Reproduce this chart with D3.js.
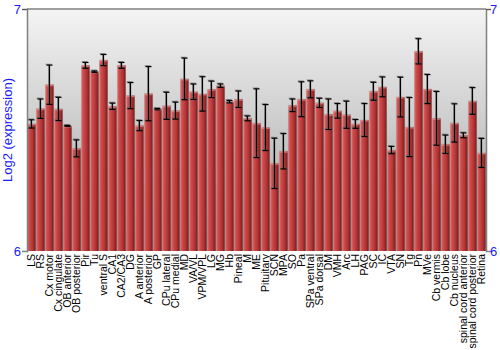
<!DOCTYPE html>
<html><head><meta charset="utf-8">
<script src="https://cdn.jsdelivr.net/npm/d3@7"></script>
<style>body{margin:0;background:#fff}svg{display:block}</style>
</head><body>
<script>
const categories = ["LS","RS","Cx motor","Cx cingulate","OB anterior","OB posterior","Pir","Tu","ventral S","CA1","CA2/CA3","DG","A anterior","A posterior","GP","CPu lateral","CPu medial","MD","VA/VL","VPM/VPL","LG","MG","Hb","Pineal","M","ME","Pituitary","SCN","MPA","SO","Pa","SPa ventral","SPa dorsal","DM","VMH","Arc","LH","PAG","SC","IC","VTA","SN","Tg","Pn","MVe","Cb vermis","Cb lobe","Cb nucleus","spinal cord anterior","spinal cord posterior","Retina"];
const values = [6.525,6.588,6.687,6.587,6.517,6.424,6.767,6.741,6.789,6.598,6.767,6.642,6.518,6.650,6.586,6.600,6.580,6.711,6.658,6.649,6.668,6.683,6.617,6.627,6.548,6.528,6.510,6.362,6.412,6.602,6.627,6.668,6.612,6.565,6.579,6.563,6.525,6.541,6.660,6.678,6.417,6.636,6.512,6.825,6.669,6.548,6.441,6.529,6.478,6.620,6.405];
const errors = [0.017,0.040,0.081,0.048,0.002,0.035,0.012,0.003,0.023,0.013,0.012,0.054,0.021,0.112,0.003,0.056,0.035,0.086,0.032,0.071,0.034,0.007,0.005,0.034,0.010,0.142,0.095,0.104,0.073,0.026,0.072,0.035,0.019,0.063,0.030,0.056,0.018,0.068,0.037,0.041,0.015,0.082,0.122,0.052,0.060,0.111,0.038,0.079,0.010,0.055,0.060];
const yTicks = [6, 7];
const yLabel = "Log2 (expression)";

const W = 500, H = 350;
const m = {l: 27, r: 14, t: 9, b: 99};
const svg = d3.select("body").append("svg").attr("width", W).attr("height", H);
const defs = svg.append("defs");
const bg = defs.append("linearGradient").attr("id","bg").attr("x1",0).attr("y1",0).attr("x2",0).attr("y2",1);
bg.append("stop").attr("offset","0%").attr("stop-color","#f4f4f4");
bg.append("stop").attr("offset","100%").attr("stop-color","#a0a0a0");
const bar = defs.append("linearGradient").attr("id","bar").attr("x1",0).attr("y1",0).attr("x2",1).attr("y2",0);
[["0%","#e06868"],["25%","#cc4a4a"],["60%","#b63636"],["85%","#962626"],["100%","#6e1414"]].forEach(s=>bar.append("stop").attr("offset",s[0]).attr("stop-color",s[1]));

const x = d3.scaleBand().domain(categories).range([m.l, W - m.r]).paddingInner(0.1).paddingOuter(0.05);
const y = d3.scaleLinear().domain([6, 7]).range([H - m.b, m.t]);

svg.append("rect").attr("x", m.l).attr("y", m.t).attr("width", W - m.r - m.l).attr("height", H - m.b - m.t).attr("fill", "url(#bg)");

const g = svg.append("g");
g.selectAll("rect.shadow").data(categories).join("rect")
  .attr("x", d => x(d) - 0.5).attr("width", x.bandwidth() + 1)
  .attr("y", (d,i) => y(values[i]) - 0.5).attr("height", (d,i) => y(6) - y(values[i]) + 0.5)
  .attr("fill", "#888").attr("opacity", 0.35);
g.selectAll("rect.bar").data(categories).join("rect")
  .attr("x", d => x(d)).attr("width", x.bandwidth())
  .attr("y", (d,i) => y(values[i])).attr("height", (d,i) => y(6) - y(values[i]))
  .attr("fill", "url(#bar)");
g.selectAll("rect.cap").data(categories).join("rect")
  .attr("x", d => x(d)).attr("width", x.bandwidth())
  .attr("y", (d,i) => y(values[i])).attr("height", 1.5)
  .attr("fill", "#f0a0a0").attr("opacity", 0.6);

function errBars(sel, dx, dy, color, op){
  const cx = d => x(d) + x.bandwidth()/2 + dx;
  sel.selectAll(null).data(categories).join("line")
    .attr("x1", cx).attr("x2", cx)
    .attr("y1", (d,i) => y(values[i] + errors[i]) + dy).attr("y2", (d,i) => y(values[i] - errors[i]) + dy)
    .attr("stroke", color).attr("stroke-width", 1.2).attr("opacity", op);
  [1, -1].forEach(sg => {
    sel.selectAll(null).data(categories).join("line")
      .attr("x1", d => cx(d) - 3).attr("x2", d => cx(d) + 3)
      .attr("y1", (d,i) => y(values[i] + sg*errors[i]) + dy).attr("y2", (d,i) => y(values[i] + sg*errors[i]) + dy)
      .attr("stroke", color).attr("stroke-width", 1.2).attr("opacity", op);
  });
}
errBars(svg.append("g"), -0.8, -0.8, "#666", 0.7);
errBars(svg.append("g"), 0, 0, "#000", 1);

// frame
svg.append("line").attr("x1", m.l).attr("x2", W - m.r).attr("y1", m.t).attr("y2", m.t).attr("stroke", "#808080").attr("stroke-width", 1.5);

const yl = svg.append("g").attr("transform", `translate(${m.l},0)`)
  .call(d3.axisLeft(y).tickValues(yTicks).tickSize(5).tickFormat(d3.format("d")));
const yr = svg.append("g").attr("transform", `translate(${W - m.r},0)`)
  .call(d3.axisRight(y).tickValues(yTicks).tickSize(5).tickFormat(d3.format("d")));
[yl, yr].forEach(a => {
  a.select(".domain").attr("stroke", "#808080").attr("stroke-width", 1.5);
  a.selectAll(".tick line").attr("stroke", "#555");
  a.selectAll("text").attr("fill", "#1a1aff").attr("font-family", "Liberation Sans, Arial, sans-serif").attr("font-size", 13);
});
yl.selectAll(".tick").filter(d => d === 6).select("line").remove();
yr.selectAll(".tick").filter(d => d === 6).select("line").remove();
yl.selectAll(".tick text").attr("x", -6);
yr.selectAll(".tick text").attr("x", 4);

svg.append("text").attr("transform", `translate(12,${(m.t + H - m.b)/2}) rotate(-90)`)
  .attr("text-anchor", "middle").attr("fill", "#1a1aff")
  .attr("font-family", "Liberation Sans, Arial, sans-serif").attr("font-size", 13).text(yLabel);

const xa = svg.append("g").attr("transform", `translate(0,${H - m.b})`)
  .call(d3.axisBottom(x).tickSize(0));
xa.select(".domain").remove();
xa.selectAll("text").attr("transform", "rotate(-90)").attr("text-anchor", "end")
  .attr("x", -3).attr("y", 0).attr("dy", "0.35em")
  .attr("fill", "#000").attr("font-family", "Liberation Sans, Arial, sans-serif").attr("font-size", 10.5);
</script>
</body></html>
